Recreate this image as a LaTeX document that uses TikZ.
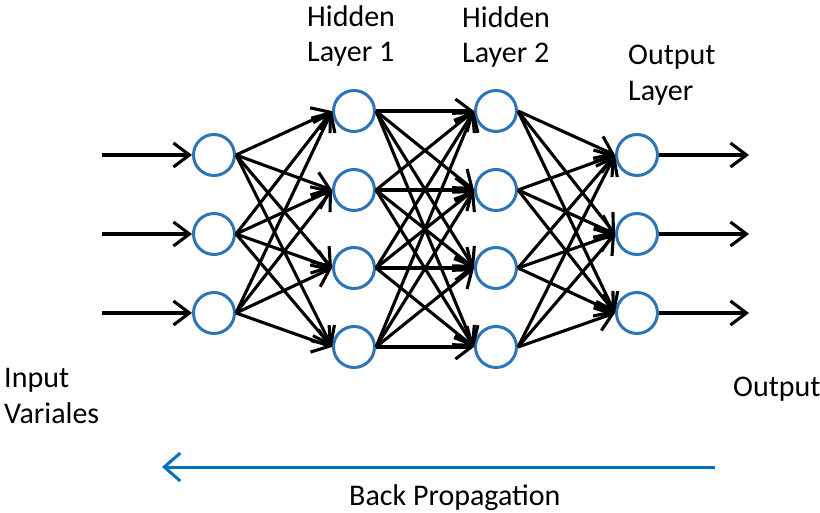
\documentclass[tikz,border=0pt]{standalone}
\usepackage{fontspec}
\setmainfont{Carlito}
\usetikzlibrary{arrows.meta}
\definecolor{nodeblue}{RGB}{46,117,182}
\definecolor{bpblue}{RGB}{0,112,192}
\begin{document}
\begin{tikzpicture}[x=1pt,y=-1pt,
  neuron/.style={circle,draw=nodeblue,line width=3pt,minimum size=41pt,inner sep=0pt,fill=white},
  conn/.style={draw=black,line width=3.1pt,-{Straight Barb[length=16pt,width=24pt]}},
  bparrow/.style={draw=bpblue,line width=3pt,-{Straight Barb[length=16pt,width=28pt]}},
  lbl/.style={font=\fontsize{30}{36}\selectfont,inner sep=0pt,anchor=base west}]
\useasboundingbox (0,0) rectangle (820,513);
% neurons
\node[neuron] (i1) at (214,155) {};
\node[neuron] (i2) at (214,234) {};
\node[neuron] (i3) at (214,313) {};
\node[neuron] (h1) at (354,111) {};
\node[neuron] (h2) at (354,190) {};
\node[neuron] (h3) at (354,268) {};
\node[neuron] (h4) at (354,347) {};
\node[neuron] (g1) at (496,111) {};
\node[neuron] (g2) at (496,190) {};
\node[neuron] (g3) at (496,268) {};
\node[neuron] (g4) at (496,347) {};
\node[neuron] (o1) at (637,155) {};
\node[neuron] (o2) at (637,234) {};
\node[neuron] (o3) at (637,313) {};
% free ends
\coordinate (in1) at (102,155);
\coordinate (in2) at (102,234);
\coordinate (in3) at (102,313);
\coordinate (out1) at (749,155);
\coordinate (out2) at (749,234);
\coordinate (out3) at (749,313);
\coordinate (bpS) at (715,467);
\coordinate (bpE) at (162,467);
% connections
\foreach \k in {1,2,3} {
  \draw[conn] (in\k) -- (i\k.west);
  \draw[conn] (o\k.east) -- (out\k);
}
\foreach \a in {1,2,3} \foreach \b in {1,2,3,4} \draw[conn] (i\a.east) -- (h\b.west);
\foreach \a in {1,2,3,4} \foreach \b in {1,2,3,4} \draw[conn] (h\a.east) -- (g\b.west);
\foreach \a in {1,2,3,4} \foreach \b in {1,2,3} \draw[conn] (g\a.east) -- (o\b.west);
\draw[bparrow] (bpS) -- (bpE);
% labels
\node[lbl] (t1a) at (307,27) {Hidden};
\node[lbl] (t1b) at (307,62) {Layer 1};
\node[lbl] (t2a) at (462,28) {Hidden};
\node[lbl] (t2b) at (462,63) {Layer 2};
\node[lbl] (t3a) at (628,65) {Output};
\node[lbl] (t3b) at (628,101) {Layer};
\node[lbl] (t4a) at (4,387) {Input};
\node[lbl] (t4b) at (4,423) {Variales};
\node[lbl] (t5) at (733,396) {Output};
\node[lbl] (t6) at (349,505) {Back Propagation};
\end{tikzpicture}
\end{document}
